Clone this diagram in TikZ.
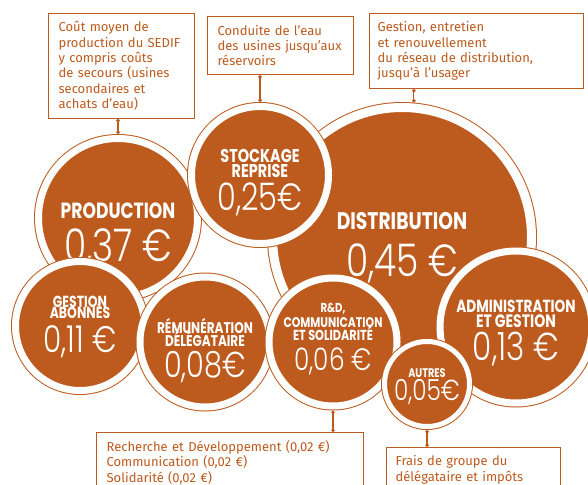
\documentclass[tikz,border=0pt]{standalone}
\usepackage{fontspec}
\usepackage{tikz}
\usetikzlibrary{arrows.meta, positioning, calc}
\setmainfont{Fira Sans}
\newfontfamily\capfont[FakeStretch=0.78]{Poppins}
\newfontfamily\numfont[FakeStretch=0.8]{Poppins Light}
\definecolor{Rust}{HTML}{BD5B1F}
\newcommand{\bubcap}[1]{\fontsize{#1}{0}\capfont\bfseries\lineskiplimit=-100pt\relax}
\newcommand{\bubval}[1]{\fontsize{#1}{0}\numfont\lineskiplimit=-100pt\relax}

\begin{document}
\begin{tikzpicture}[x=1pt, y=-1pt,
    bubble/.style={circle, fill=Rust, draw=Rust, line width=1pt, double=white,
                   double distance=7pt, outer sep=4.5pt, inner sep=0pt,
                   text=white, align=center, text depth=0pt,
                   font={\fontsize{10}{0}\selectfont\lineskiplimit=-100pt\relax}},
    note/.style={rectangle, draw=Rust, line width=1.2pt, fill=white, text=Rust,
                 anchor=north west, align=left, inner xsep=10pt, inner ysep=8pt,
                 font=\fontsize{13}{15.3}\selectfont},
    tether/.style={draw=Rust, line width=1.2pt, {Circle[length=3.5pt]}-{Circle[length=3.5pt]}}
]
    \useasboundingbox (0,0) rectangle (588,484);
    \clip (0,0) rectangle (588,484);

    % cost bubbles
    \node[bubble, minimum size=259pt, double distance=9pt, outer sep=5.5pt, text height=78pt] (dist) at (402,237)
        {\bubcap{24}DISTRIBUTION\\[47pt]\bubval{45}0,45~€};
    \node[bubble, minimum size=159pt, text height=86pt] (prod) at (118,218)
        {\bubcap{22}PRODUCTION\\[43pt]\bubval{45}0,37~€};
    \node[bubble, minimum size=137pt, text height=70pt] (stock) at (260,175)
        {\bubcap{18.5}STOCKAGE\\[15pt]\bubcap{18.5}REPRISE\\[33pt]\bubval{38}0,25€};
    \node[bubble, minimum size=129pt, text height=52pt] (gest) at (80,326)
        {\bubcap{16}GESTION\\[11pt]\bubcap{16}ABONNÉS\\[34pt]\bubval{37}0,11~€};
    \node[bubble, minimum size=130pt, text height=70pt] (remu) at (205,342)
        {\bubcap{15.5}RÉMUNÉRATION\\[13pt]\bubcap{15.5}DÉLÉGATAIRE\\[31pt]\bubval{36}0,08€};
    \node[bubble, minimum size=128pt, text height=56pt] (rnd) at (333,342)
        {\bubcap{13}R\&D,\\[15pt]\bubcap{14}COMMUNICATION\\[13pt]\bubcap{14.5}ET SOLIDARITÉ\\[30pt]\bubval{31}0,06~€};
    \node[bubble, minimum size=152pt, text height=66pt] (admin) at (516,327)
        {\bubcap{17.5}ADMINISTRATION\\[15pt]\bubcap{18}ET GESTION\\[33pt]\bubval{39}0,13~€};
    \node[bubble, minimum size=85pt, double distance=5pt, outer sep=3.5pt, text height=32pt] (autres) at (427,384)
        {\bubcap{12.5}AUTRES\\[23pt]\bubval{29}0,05€};

    % notes
    \node[note, text width=126pt, minimum height=104pt] (prodnote) at (48,13) {
        Coût moyen de\\production du SEDIF\\y compris coûts\\de secours (usines\\secondaires et\\achats d’eau)};
    \node[note, text width=126pt, minimum height=58pt] (stocknote) at (207,16) {
        Conduite de l’eau\\des usines jusqu’aux\\réservoirs};
    \node[note, text width=198pt, inner xsep=8pt, minimum height=73pt] (distnote) at (369,13) {
        Gestion, entretien\\et renouvellement\\du réseau de distribution,\\jusqu’à l’usager};
    \node[note, text width=247pt, text depth=40pt] (rndnote) at (96,432) {
        Recherche et Développement (0,02 €)\\Communication (0,02 €)\\Solidarité (0,02 €)};
    \node[note, text width=156pt, inner xsep=9pt, text depth=40pt] (autresnote) at (386,447) {
        Frais de groupe du\\délégataire et impôts};

    % links
    \draw[tether] (prod.north) -- (prod.north |- prodnote.south);
    \draw[tether] (stock.north) -- (stock.north |- stocknote.south);
    \draw[tether] (dist.85) -- (dist.85 |- distnote.south);
    \draw[tether] (rnd.south) -- (rnd.south |- rndnote.north);
    \draw[tether] (autres.south) -- (autres.south |- autresnote.north);
\end{tikzpicture}
\end{document}
